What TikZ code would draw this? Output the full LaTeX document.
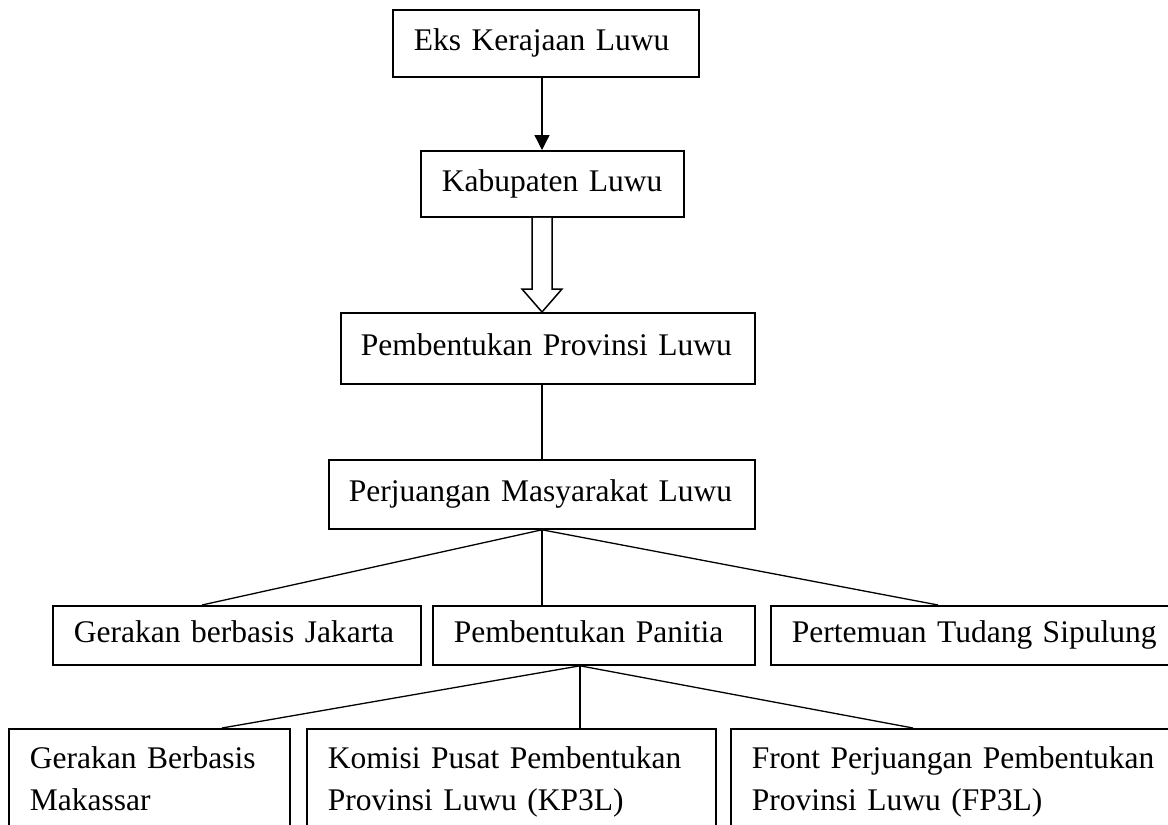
\documentclass[tikz,border=0pt]{standalone}
\usepackage{fontspec}
\setmainfont{Liberation Serif}
\usetikzlibrary{arrows.meta,calc}
\begin{document}
\begin{tikzpicture}[x=1pt,y=-1pt,
  box/.style={draw, line width=1.8pt, anchor=north west, align=left,
    inner xsep=21pt, inner ysep=0pt, text height=22pt, text depth=7pt,
    font=\fontsize{31.5}{42}\selectfont},
  tallbox/.style={draw, line width=1.8pt, anchor=north west, align=left,
    inner xsep=21pt, inner ysep=18pt,
    font=\fontsize{31.5}{42}\selectfont},
  link/.style={line width=1.3pt},
  hollow/.style={draw, line width=1.5pt, fill=white, line join=miter}]
\useasboundingbox (0,0) rectangle (1168,825);
\clip (0,0) rectangle (1168,825);
% row 1-2
\node[box, minimum width=306pt, minimum height=67pt, text width=264pt] (eks) at (392,9) {Eks Kerajaan Luwu};
\node[box, minimum width=263pt, minimum height=66pt, text width=221pt] (kab) at (420,150) {Kabupaten Luwu};
\node[box, minimum width=414pt, minimum height=71pt, text width=374pt, inner xsep=20pt] (pem) at (340,312) {Pembentukan Provinsi Luwu};
\node[box, minimum width=426pt, minimum height=69pt, text width=386pt, inner xsep=20pt] (per) at (328,459) {Perjuangan Masyarakat Luwu};
% row 3
\node[box, minimum width=368pt, minimum height=59pt, text width=326pt] (jak) at (52,605) {Gerakan berbasis Jakarta};
\node[box, minimum width=322pt, minimum height=59pt, text width=280pt] (pan) at (432,605) {Pembentukan Panitia};
\node[box, minimum width=440pt, minimum height=59pt, text width=398pt] (pert) at (770,605) {Pertemuan Tudang Sipulung};
% row 4
\node[tallbox, minimum width=281pt, text width=239pt] (mak) at (8,728) {Gerakan Berbasis\\Makassar};
\node[tallbox, minimum width=409pt, text width=367pt] (kom) at (306,728) {Komisi Pusat Pembentukan\\Provinsi Luwu (KP3L)};
\node[tallbox, minimum width=470pt, text width=428pt] (fro) at (730,728) {Front Perjuangan Pembentukan\\Provinsi Luwu (FP3L)};
% connectors
\coordinate (ks) at (kab.south -| 542,0);
\coordinate (pn) at (pem.north -| 542,0);
\draw[link, -{Triangle[width=15pt,length=15pt]}] (eks.south -| 542,0) -- (kab.north -| 542,0);
\path[hollow] ($(ks)+(-10,0)$) -- ($(pn)+(-10,-23)$)
  -- ($(pn)+(-20,-23)$) -- (pn)
  -- ($(pn)+(20,-23)$) -- ($(pn)+(10,-23)$)
  -- ($(ks)+(10,0)$);
\draw[link] (pem.south -| 542,0) -- (per.north -| 542,0);
\draw[link] (per.south -| 542,0) -- ($(jak.north west)+(150,0)$);
\draw[link] (per.south -| 542,0) -- ($(pan.north west)+(110,0)$);
\draw[link] (per.south -| 542,0) -- ($(pert.north west)+(168,0)$);
\draw[link] ($(pan.south west)+(148,0)$) -- ($(mak.north west)+(214,0)$);
\draw[link] ($(pan.south west)+(148,0)$) -- ($(kom.north west)+(274,0)$);
\draw[link] ($(pan.south west)+(148,0)$) -- ($(fro.north west)+(183,0)$);
\end{tikzpicture}
\end{document}
